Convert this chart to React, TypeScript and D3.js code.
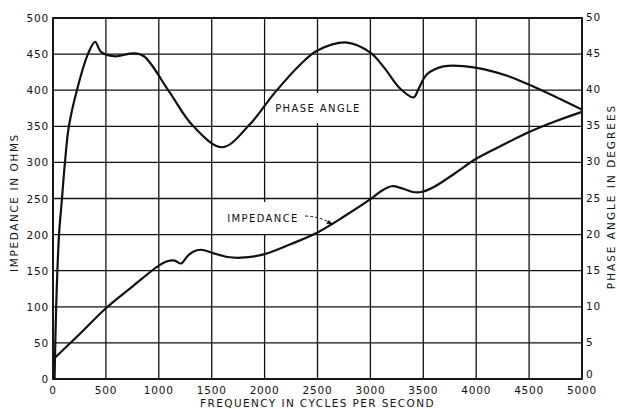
import React, { useEffect, useRef } from 'react';
import * as d3 from 'd3';

// impedance curve (ohms vs Hz)
const impFreq = [0, 250, 500, 750, 1000, 1080, 1150, 1210, 1270, 1320, 1400, 1520, 1650, 1780, 2000, 2250, 2500, 2750, 3000, 3100, 3200, 3300, 3400, 3480, 3600, 3800, 4000, 4250, 4500, 4750, 5000];
const impOhms = [27, 62, 98, 128, 157, 163, 164, 160, 170, 176, 179, 174, 169, 168, 173, 187, 203, 225, 249, 260, 267, 264, 259, 259, 266, 285, 305, 324, 342, 357, 370];

// phase angle curve (degrees vs Hz)
const phaseFreq = [15, 30, 57, 85, 113, 150, 226, 330, 398, 453, 578, 765, 860, 1098, 1320, 1600, 1850, 2104, 2340, 2500, 2780, 3000, 3126, 3283, 3409, 3456, 3535, 3692, 4006, 4292, 4540, 5000];
const phaseDeg = [0, 10, 20, 25, 30, 35, 40, 45, 46.7, 45.3, 44.7, 45.1, 44.7, 39.8, 35.1, 32.1, 35.1, 39.8, 43.6, 45.5, 46.6, 45.2, 43.2, 40.2, 39.0, 40.2, 42.2, 43.3, 43.1, 42.0, 40.5, 37.3];

const freqTicks = [0, 500, 1000, 1500, 2000, 2500, 3000, 3500, 4000, 4500, 5000];
const ohmTicks = [0, 50, 100, 150, 200, 250, 300, 350, 400, 450, 500];
const degTicks = [0, 5, 10, 15, 20, 25, 30, 35, 40, 45, 50];

const W = 617;
const H = 409;
const FONT = '"DejaVu Sans", sans-serif';
const INK = '#111';

const App = () => {
  const svgRef = useRef<SVGSVGElement>(null);

  useEffect(() => {
    const svg = d3.select(svgRef.current).attr('width', W).attr('height', H);
    svg.selectAll('*').remove();

    const m = { top: 18, right: 35, bottom: 30, left: 53 };
    const x = d3.scaleLinear().domain([0, 5000]).range([m.left, W - m.right]);
    const y = d3.scaleLinear().domain([0, 500]).range([H - m.bottom, m.top]);
    const yDeg = d3.scaleLinear().domain([0, 50]).range([H - m.bottom, m.top]);

    svg.append('rect').attr('width', W).attr('height', H).attr('fill', '#fff');

    // grid
    const grid = svg.append('g').attr('stroke', INK).attr('stroke-width', 1.3);
    grid.selectAll('.vx').data(freqTicks).enter().append('line')
      .attr('x1', d => x(d)).attr('x2', d => x(d))
      .attr('y1', y(0)).attr('y2', y(500));
    grid.selectAll('.hy').data(ohmTicks).enter().append('line')
      .attr('x1', x(0)).attr('x2', x(5000))
      .attr('y1', d => y(d)).attr('y2', d => y(d));

    // frame a bit heavier
    svg.append('rect')
      .attr('x', x(0)).attr('y', y(500))
      .attr('width', x(5000) - x(0)).attr('height', y(0) - y(500))
      .attr('fill', 'none').attr('stroke', INK).attr('stroke-width', 1.8);

    // white boxes behind the curve labels
    svg.append('rect').attr('x', 265).attr('y', 93).attr('width', 103).attr('height', 30).attr('fill', '#fff');
    svg.append('rect').attr('x', 218).attr('y', 202).attr('width', 94).attr('height', 32).attr('fill', '#fff');

    const line = d3.line<[number, number]>().curve(d3.curveCatmullRom.alpha(0.5));

    const impPts = impFreq.map((f, i) => [x(f), y(impOhms[i])] as [number, number]);
    const phasePts = phaseFreq.map((f, i) => [x(f), yDeg(phaseDeg[i])] as [number, number]);

    svg.append('path').attr('d', line(phasePts))
      .attr('fill', 'none').attr('stroke', INK).attr('stroke-width', 2.2);
    svg.append('path').attr('d', line(impPts))
      .attr('fill', 'none').attr('stroke', INK).attr('stroke-width', 2.2);

    // tick labels
    const tick = (sel: any) => sel
      .attr('font-family', FONT).attr('font-size', 10.5)
      .attr('letter-spacing', 0.8).attr('fill', INK)
      .attr('dominant-baseline', 'central');

    svg.append('g').selectAll('text').data(ohmTicks).enter().append('text')
      .call(tick)
      .attr('x', x(0) - 4).attr('y', d => y(d))
      .attr('text-anchor', 'end')
      .text(d => d);

    svg.append('g').selectAll('text').data(degTicks).enter().append('text')
      .call(tick)
      .attr('x', x(5000) + 4).attr('y', d => yDeg(d) - (d === 0 ? 5 : 1))
      .attr('text-anchor', 'start')
      .text(d => d);

    svg.append('g').selectAll('text').data(freqTicks).enter().append('text')
      .call(tick)
      .attr('x', d => x(d)).attr('y', y(0) + 11)
      .attr('text-anchor', 'middle')
      .text(d => d);

    // axis titles
    const title = (sel: any) => sel
      .attr('font-family', FONT).attr('font-size', 10.5)
      .attr('letter-spacing', 1.4).attr('fill', INK)
      .attr('text-anchor', 'middle').attr('dominant-baseline', 'central');

    svg.append('text').call(title)
      .attr('x', (x(0) + x(5000)) / 2).attr('y', y(0) + 24)
      .text('FREQUENCY IN CYCLES PER SECOND');

    svg.append('text').call(title)
      .attr('transform', `translate(14,${(y(0) + y(500)) / 2 + 4}) rotate(-90)`)
      .attr('letter-spacing', 1.6)
      .text('IMPEDANCE IN OHMS');

    svg.append('text').call(title)
      .attr('transform', `translate(611,${(y(0) + y(500)) / 2 - 2}) rotate(-90)`)
      .attr('letter-spacing', 2)
      .text('PHASE ANGLE IN DEGREES');

    // curve labels
    svg.append('text').call(title)
      .attr('x', 318).attr('y', 108).attr('font-size', 10)
      .text('PHASE ANGLE');

    svg.append('text').call(title)
      .attr('x', 263).attr('y', 218).attr('font-size', 10)
      .text('IMPEDANCE');

    // dashed arrow to the impedance curve
    const tx = x(2645);
    const ty = y(214);
    svg.append('path')
      .attr('d', `M305,216 Q${tx - 12},${ty - 8} ${tx},${ty}`)
      .attr('fill', 'none').attr('stroke', INK).attr('stroke-width', 1)
      .attr('stroke-dasharray', '3,2');
    svg.append('path')
      .attr('d', `M${tx},${ty} l-6,-1 l2,-3 z`)
      .attr('fill', INK).attr('stroke', INK).attr('stroke-width', 0.8);
  }, []);

  return (
    <svg ref={svgRef} style={{ position: 'absolute', left: 0, top: 0, display: 'block' }}></svg>
  );
};

export default App;
